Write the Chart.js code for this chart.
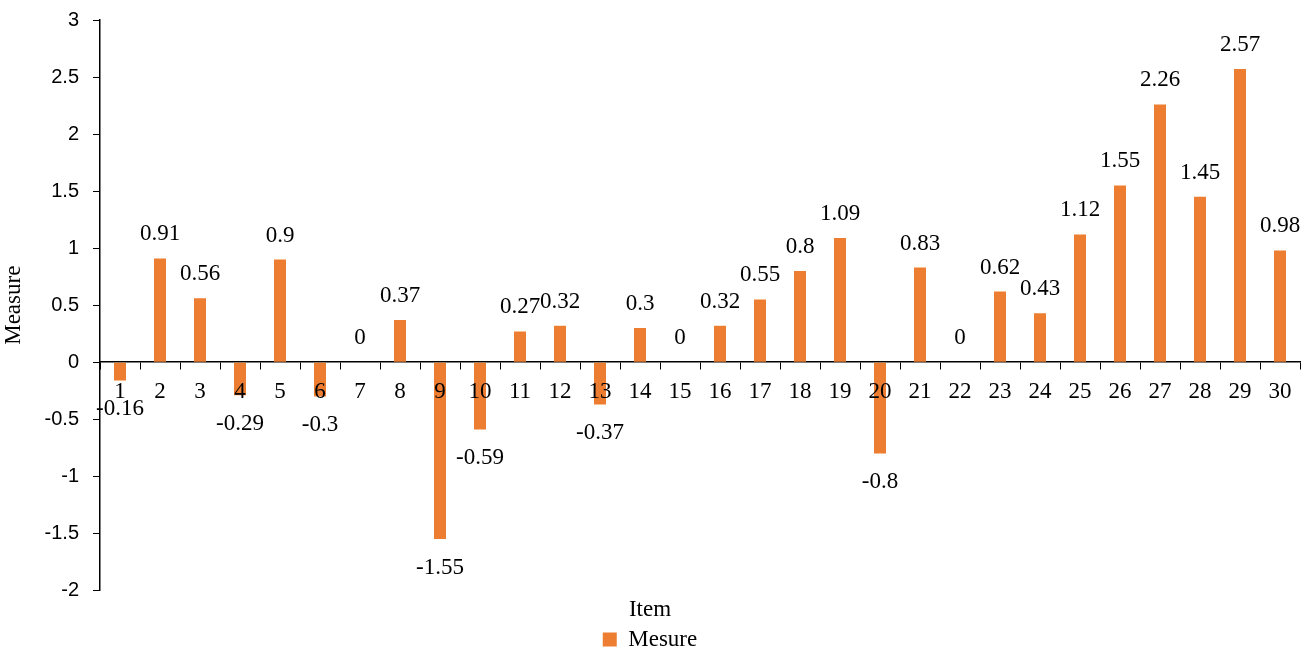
<!DOCTYPE html>
<html>
<head>
<meta charset="utf-8">
<script src="https://cdn.jsdelivr.net/npm/chart.js@4"></script>
<style>
html,body{margin:0;padding:0;background:#fff;}
#wrap{width:1312px;height:654px;position:relative;}
</style>
</head>
<body>
<div id="wrap"><canvas id="c" width="1312" height="654"></canvas></div>
<script>
const categories = ['1','2','3','4','5','6','7','8','9','10','11','12','13','14','15','16','17','18','19','20','21','22','23','24','25','26','27','28','29','30'];
const mesure = [-0.16,0.91,0.56,-0.29,0.9,-0.3,0,0.37,-1.55,-0.59,0.27,0.32,-0.37,0.3,0,0.32,0.55,0.8,1.09,-0.8,0.83,0,0.62,0.43,1.12,1.55,2.26,1.45,2.57,0.98];
const yTicks = [-2,-1.5,-1,-0.5,0,0.5,1,1.5,2,2.5,3];

const SERIF = '"Liberation Serif", "DejaVu Serif", serif';
const SANS = '"Liberation Sans", Arial, sans-serif';
const ORANGE = '#ED7D31';

const labelPlugin = {
  id: 'barLabels',
  afterDatasetsDraw(chart) {
    const ctx = chart.ctx;
    const meta = chart.getDatasetMeta(0);
    ctx.save();
    ctx.font = '23px ' + SERIF;
    ctx.fillStyle = '#000';
    ctx.textAlign = 'center';
    meta.data.forEach((bar, i) => {
      const v = mesure[i];
      const txt = String(v);
      if (v >= 0) {
        ctx.textBaseline = 'alphabetic';
        ctx.fillText(txt, bar.x, bar.y - 18);
      } else {
        ctx.textBaseline = 'top';
        ctx.fillText(txt, bar.x, bar.y + 17);
      }
    });
    ctx.restore();
  }
};

new Chart(document.getElementById('c'), {
  type: 'bar',
  data: {
    labels: categories,
    datasets: [{
      label: 'Mesure',
      data: mesure,
      backgroundColor: ORANGE,
      borderWidth: 0,
      barPercentage: 0.3,
      categoryPercentage: 1.0
    }]
  },
  options: {
    responsive: false,
    animation: false,
    devicePixelRatio: 1,
    layout: { padding: { top: 20, right: 12, left: 0, bottom: -7 } },
    plugins: {
      tooltip: { enabled: false },
      legend: {
        position: 'bottom',
        labels: {
          font: { family: SERIF, size: 23 },
          color: '#000',
          boxWidth: 14,
          boxHeight: 14,
          padding: 2
        },
        title: {
          display: true,
          text: 'Item',
          font: { family: SERIF, size: 23 },
          color: '#000',
          padding: { top: 8, bottom: 0 }
        }
      }
    },
    scales: {
      x: {
        position: { y: 0 },
        offset: true,
        grid: {
          offset: true,
          drawOnChartArea: false,
          drawTicks: true,
          tickLength: 7,
          color: '#000',
          tickColor: '#000'
        },
        border: { display: true, color: '#000', width: 1.5 },
        ticks: {
          z: 1,
          font: { family: SERIF, size: 23 },
          color: '#000',
          padding: 9,
          maxRotation: 0,
          autoSkip: false
        }
      },
      y: {
        min: -2,
        max: 3,
        afterBuildTicks(scale) { scale.ticks = yTicks.map(v => ({ value: v })); },
        afterFit(scale) { scale.width = 100; scale.paddingTop = 0; },
        grid: {
          drawOnChartArea: false,
          drawTicks: true,
          tickLength: 7,
          tickColor: '#000'
        },
        border: { display: true, color: '#000', width: 1.5 },
        ticks: {
          font: { family: SANS, size: 20 },
          color: '#000',
          padding: 14,
          callback: v => String(v)
        },
        title: {
          display: true,
          text: 'Measure',
          font: { family: SERIF, size: 23 },
          color: '#000',
          padding: { top: 0, bottom: 0 }
        }
      }
    }
  },
  plugins: [labelPlugin]
});
</script>
</body>
</html>
